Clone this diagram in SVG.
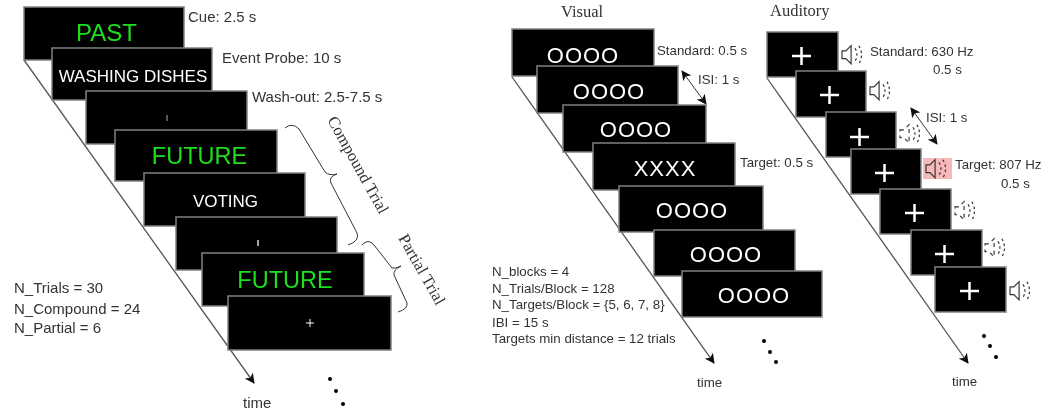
<svg xmlns="http://www.w3.org/2000/svg" width="1043" height="413" viewBox="0 0 1043 413">
<style>
.scr{fill:#000;stroke:#808080;stroke-width:1.5}
.t{font-family:"Liberation Sans",Arial,sans-serif;font-size:13.300px;fill:#333}
.tl{font-family:"Liberation Sans",Arial,sans-serif;font-size:15px;fill:#333}
.s{font-family:"Liberation Serif","Times New Roman",serif;font-size:16.500px;fill:#333}
.w{font-family:"Liberation Sans",Arial,sans-serif;fill:#fff;text-anchor:middle}
.g{font-family:"Liberation Sans",Arial,sans-serif;fill:#1fe01f;text-anchor:middle}
.l{fill:none;stroke:#555;stroke-width:1.3}
.b{fill:none;stroke:#333;stroke-width:1}
.c{fill:none;stroke:#fff;stroke-width:2.5}
.sp{fill:none;stroke:#333;stroke-width:.9}
.d{stroke-dasharray:2 2}
.e{stroke-dasharray:3 3}
.dot{fill:#000}
</style>
<defs>
<marker id="ah" viewBox="0 0 10 10" refX="9" refY="5" markerWidth="10" markerHeight="10" markerUnits="userSpaceOnUse" orient="auto-start-reverse"><path d="M0 0L10 5L0 10L2.500 5Z" fill="#111"/></marker>
<g id="spk"><path class="sp" d="M0 3H3L7 -1V13L3 9H0Z"/><path class="sp d" d="M10 1Q13 6 10 11M13 -1Q17 6 13 13"/></g>
<g id="spkd"><path class="sp e" d="M0 3H3L7 -1V13L3 9H0Z"/><path class="sp d" d="M10 1Q13 6 10 11M13 -1Q17 6 13 13"/></g>
<filter id="soft" x="0" y="0" width="100%" height="100%"><feGaussianBlur stdDeviation="0.4"/></filter>
</defs>
<g filter="url(#soft)">
<g id="connectors">
<path class="l" d="M24 60L254 383" marker-end="url(#ah)"/>
<path class="l" d="M512 77L714 363" marker-end="url(#ah)"/>
<path class="l" d="M767 78L968 363" marker-end="url(#ah)"/>
<path class="b" d="M682 71L706 104" marker-start="url(#ah)" marker-end="url(#ah)"/>
<path class="b" d="M911 108L937 144" marker-start="url(#ah)" marker-end="url(#ah)"/>
</g>
<g id="cue"><rect class="scr" x="24" y="7" width="160" height="53"/><text class="g" x="106.500" y="41" font-size="24">PAST</text><text class="tl" x="188" y="22">Cue: 2.5 s</text></g>
<g id="probe"><rect class="scr" x="52" y="48" width="160" height="52"/><text class="w" x="133" y="82" font-size="17">WASHING DISHES</text><text class="tl" x="222" y="63">Event Probe: 10 s</text></g>
<g id="washout"><rect class="scr" x="86" y="91" width="161" height="53"/><path d="M167 115V121" stroke="#aaa"/><text class="tl" x="252" y="102">Wash-out: 2.5-7.5 s</text></g>
<g id="future1"><rect class="scr" x="115" y="130" width="162" height="51"/><text class="g" x="199.500" y="164" font-size="23.500">FUTURE</text></g>
<g id="voting"><rect class="scr" x="144" y="173" width="161" height="53"/><text class="w" x="225.500" y="207" font-size="17">VOTING</text></g>
<g id="blank"><rect class="scr" x="176" y="217" width="161" height="53"/><path d="M258 240V246" stroke="#ddd" stroke-width="1.500"/></g>
<g id="future2"><rect class="scr" x="202" y="253" width="162" height="53"/><text class="g" x="285" y="288" font-size="23.500">FUTURE</text></g>
<g id="fix"><rect class="scr" x="228" y="296" width="163" height="54"/><path d="M306 323H314M310 319V327" stroke="#fff"/></g>
<g id="compound"><path class="b" d="M285 128Q292 122 299 129L325 172Q329 176 337 174Q328 177 331 183L357 233Q360 241 348 245"/><text class="s" transform="translate(327 120) rotate(61)">Compound Trial</text></g>
<g id="partial"><path class="b" d="M362 245Q368 238 374 245L392 268Q395 269 401 266Q393 270 394 275L407 303Q408 309 398 312"/><text class="s" transform="translate(398 238) rotate(60.500)">Partial Trial</text></g>
<g id="left-notes"><text class="tl" x="14" y="293">N_Trials = 30</text><text class="tl" x="14" y="314">N_Compound = 24</text><text class="tl" x="14" y="333">N_Partial = 6</text><text class="tl" x="243" y="408">time</text><circle class="dot" cx="330" cy="379" r="2"/><circle class="dot" cx="336" cy="391" r="2"/><circle class="dot" cx="343" cy="404" r="2"/></g>

<g id="visual-title"><text class="s" x="561" y="17">Visual</text></g>
<g id="v1"><rect class="scr" x="512" y="29" width="142" height="47"/><text class="w" x="583" y="63" font-size="22" letter-spacing="1">OOOO</text><text class="t" x="657" y="55">Standard: 0.5 s</text></g>
<g id="v2"><rect class="scr" x="537" y="66" width="141" height="47"/><text class="w" x="609" y="99" font-size="22" letter-spacing="1">OOOO</text><text class="t" x="698" y="84">ISI: 1 s</text></g>
<g id="v3"><rect class="scr" x="563" y="105" width="143" height="47"/><text class="w" x="636" y="137" font-size="22" letter-spacing="1">OOOO</text></g>
<g id="v4"><rect class="scr" x="593" y="143" width="142" height="47"/><text class="w" x="665" y="176" font-size="22" letter-spacing="1">XXXX</text><text class="t" x="740" y="167">Target: 0.5 s</text></g>
<g id="v5"><rect class="scr" x="619" y="186" width="144" height="46"/><text class="w" x="692" y="218" font-size="22" letter-spacing="1">OOOO</text></g>
<g id="v6"><rect class="scr" x="654" y="230" width="141" height="46"/><text class="w" x="726" y="262" font-size="22" letter-spacing="1">OOOO</text></g>
<g id="v7"><rect class="scr" x="682" y="271" width="140" height="46"/><text class="w" x="754" y="303" font-size="22" letter-spacing="1">OOOO</text></g>
<g id="visual-notes"><text class="t" x="492" y="276">N_blocks = 4</text><text class="t" x="492" y="293">N_Trials/Block = 128</text><text class="t" x="492" y="309">N_Targets/Block = {5, 6, 7, 8}</text><text class="t" x="492" y="327">IBI = 15 s</text><text class="t" x="492" y="343">Targets min distance = 12 trials</text><text class="t" x="697" y="387">time</text><circle class="dot" cx="764" cy="341" r="2"/><circle class="dot" cx="770" cy="352" r="2"/><circle class="dot" cx="776" cy="362" r="2"/></g>

<g id="auditory-title"><text class="s" x="770" y="16">Auditory</text></g>
<g id="a1"><rect class="scr" x="767" y="32" width="71" height="45"/><path class="c" d="M792 56H811M801.500 47V65"/><use href="#spk" transform="translate(842 47) scale(1.300)"/><text class="t" x="870" y="56">Standard: 630 Hz</text><text class="t" x="933" y="74">0.5 s</text></g>
<g id="a2"><rect class="scr" x="796" y="71" width="70" height="46"/><path class="c" d="M820 95H839M829.500 86V104"/><use href="#spk" transform="translate(870 83) scale(1.300)"/></g>
<g id="a3"><rect class="scr" x="826" y="112" width="70" height="45"/><path class="c" d="M850 137H869M859.500 128V146"/><use href="#spkd" transform="translate(900 126) scale(1.300)"/><text class="t" x="926" y="122">ISI: 1 s</text></g>
<g id="a4"><rect class="scr" x="851" y="149" width="70" height="45"/><path class="c" d="M875 173H894M884.500 164V182"/><rect x="923" y="158" width="29" height="21" fill="#f6b9b9"/><use href="#spk" transform="translate(926 161) scale(1.300)"/><text class="t" x="955" y="169">Target: 807 Hz</text><text class="t" x="1001" y="188">0.5 s</text></g>
<g id="a5"><rect class="scr" x="880" y="189" width="71" height="45"/><path class="c" d="M905 213H924M914.500 204V222"/><use href="#spkd" transform="translate(955 203) scale(1.300)"/></g>
<g id="a6"><rect class="scr" x="911" y="230" width="71" height="45"/><path class="c" d="M935 254H954M944.500 245V263"/><use href="#spkd" transform="translate(985 240) scale(1.300)"/></g>
<g id="a7"><rect class="scr" x="935" y="267" width="71" height="45"/><path class="c" d="M960 291H979M969.500 282V300"/><use href="#spk" transform="translate(1010 283) scale(1.300)"/></g>
<g id="auditory-notes"><text class="t" x="952" y="386">time</text><circle class="dot" cx="984" cy="336" r="2"/><circle class="dot" cx="990" cy="346" r="2"/><circle class="dot" cx="996" cy="357" r="2"/></g>
</g>
</svg>
